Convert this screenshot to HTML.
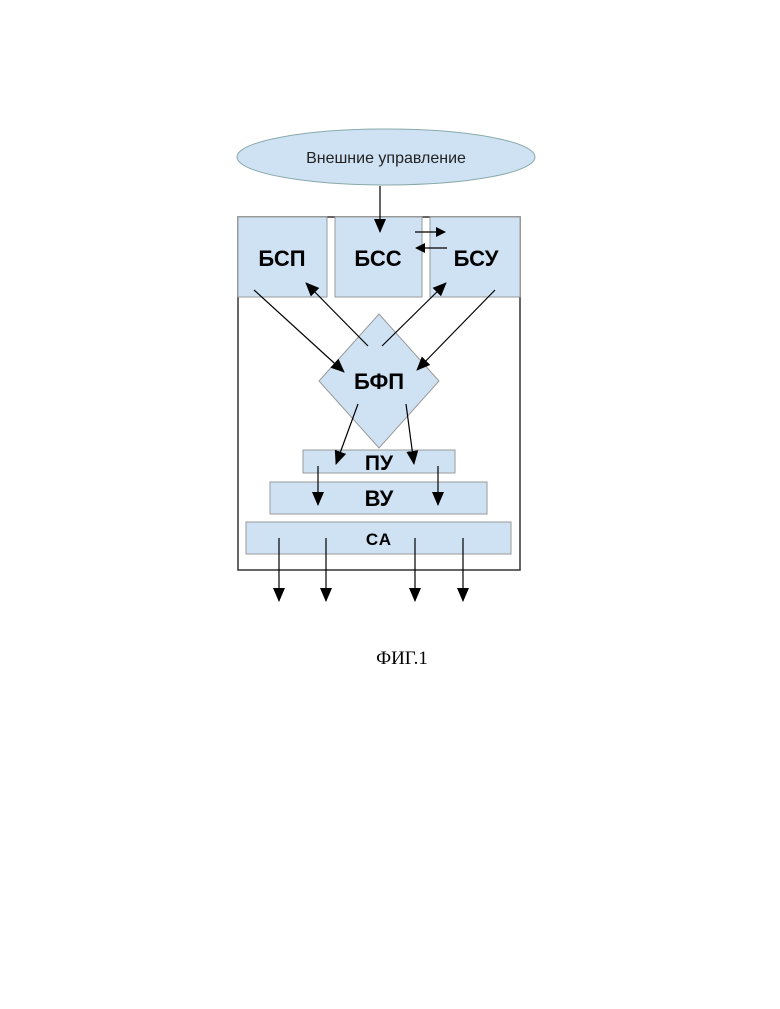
<!DOCTYPE html>
<html><head><meta charset="utf-8"><style>body{margin:0;background:#fff}</style></head><body>
<svg width="780" height="1009" xmlns="http://www.w3.org/2000/svg" style="display:block">
<defs><marker id="a" markerWidth="10" markerHeight="10" refX="9" refY="5" orient="auto" markerUnits="userSpaceOnUse"><path d="M0,0 L10,5 L0,10 z" fill="#000"/></marker>
<marker id="b" markerWidth="14" markerHeight="14" refX="13" refY="7" orient="auto" markerUnits="userSpaceOnUse"><path d="M0,1 L14,7 L0,13 z" fill="#000"/></marker></defs>
<g font-family="Liberation Sans, DejaVu Sans, sans-serif">
<ellipse cx="386" cy="157" rx="149" ry="28" fill="#cfe2f3" stroke="#8aa" stroke-width="1"/>
<text x="386" y="163" font-size="16" text-anchor="middle" fill="#222">Внешние управление</text>
<rect x="238" y="217" width="282" height="353" fill="#fff" stroke="#333" stroke-width="1.5"/>
<rect x="238" y="217" width="89" height="80" fill="#cfe2f3" stroke="#999"/>
<rect x="335" y="217" width="87" height="80" fill="#cfe2f3" stroke="#999"/>
<rect x="430" y="217" width="90" height="80" fill="#cfe2f3" stroke="#999"/>
<text x="282" y="266" font-size="22" font-weight="bold" text-anchor="middle">БСП</text>
<text x="378" y="266" font-size="22" font-weight="bold" text-anchor="middle">БСС</text>
<text x="476" y="266" font-size="22" font-weight="bold" text-anchor="middle">БСУ</text>
<polygon points="379,314 439,381 379,448 319,381" fill="#cfe2f3" stroke="#999"/>
<text x="379" y="389" font-size="22" font-weight="bold" text-anchor="middle">БФП</text>
<rect x="303" y="450" width="152" height="23" fill="#cfe2f3" stroke="#999"/>
<text x="379" y="470" font-size="21" font-weight="bold" text-anchor="middle">ПУ</text>
<rect x="270" y="482" width="217" height="32" fill="#cfe2f3" stroke="#999"/>
<text x="379" y="506" font-size="22" font-weight="bold" text-anchor="middle">ВУ</text>
<rect x="246" y="522" width="265" height="32" fill="#cfe2f3" stroke="#999"/>
<text x="379" y="545" font-size="17" font-weight="bold" text-anchor="middle" letter-spacing="1">СА</text>
</g>
<g stroke="#000" stroke-width="1.2" fill="none">
<line x1="380" y1="186" x2="380" y2="232" marker-end="url(#b)"/>
<line x1="415" y1="232" x2="445" y2="232" marker-end="url(#a)"/>
<line x1="447" y1="248" x2="416" y2="248" marker-end="url(#a)"/>
<line x1="254" y1="290" x2="344" y2="372" marker-end="url(#b)"/>
<line x1="368" y1="346" x2="306" y2="283" marker-end="url(#b)"/>
<line x1="382" y1="346" x2="446" y2="283" marker-end="url(#b)"/>
<line x1="495" y1="290" x2="417" y2="370" marker-end="url(#b)"/>
<line x1="358" y1="404" x2="336" y2="464" marker-end="url(#b)"/>
<line x1="406" y1="404" x2="414" y2="464" marker-end="url(#b)"/>
<line x1="318" y1="466" x2="318" y2="505" marker-end="url(#b)"/>
<line x1="438" y1="466" x2="438" y2="505" marker-end="url(#b)"/>
<line x1="279" y1="538" x2="279" y2="601" marker-end="url(#b)"/>
<line x1="326" y1="538" x2="326" y2="601" marker-end="url(#b)"/>
<line x1="415" y1="538" x2="415" y2="601" marker-end="url(#b)"/>
<line x1="463" y1="538" x2="463" y2="601" marker-end="url(#b)"/>
</g>
<text x="402" y="664" font-family="Liberation Serif, serif" font-size="19" text-anchor="middle">ФИГ.1</text>
</svg>
</body></html>
